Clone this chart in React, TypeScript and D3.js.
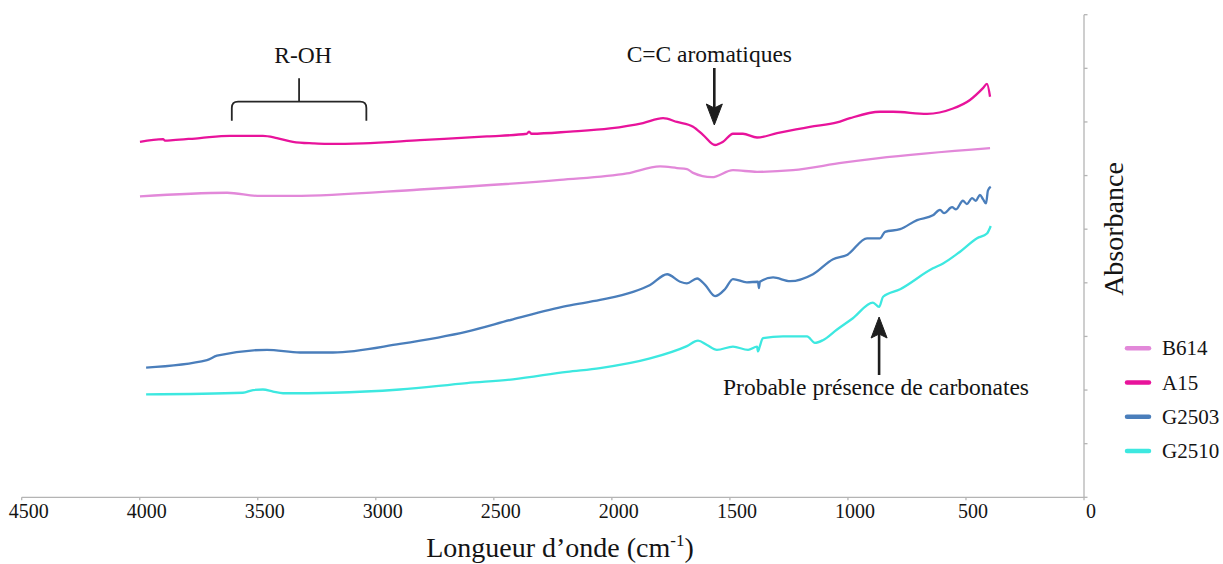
import * as d3 from "d3";

// wavenumber (cm-1), absorbance (a.u.)
const B614: [number, number][] = [
  [3999, 0.561], [3630, 0.568], [3491, 0.562], [3351, 0.562], [2813, 0.574],
  [2220, 0.592], [1936, 0.604], [1796, 0.617], [1724, 0.614], [1682, 0.612],
  [1656, 0.605], [1576, 0.597], [1487, 0.61], [1385, 0.607], [1233, 0.61],
  [1021, 0.624], [877, 0.632], [398, 0.651],
];

const A15: [number, number][] = [
  [3999, 0.663], [3901, 0.668], [3893, 0.665], [3859, 0.666], [3745, 0.67],
  [3618, 0.674], [3478, 0.674], [3419, 0.67], [3351, 0.663], [3266, 0.66],
  [3207, 0.659], [3054, 0.66], [2813, 0.666], [2529, 0.673], [2360, 0.678],
  [2351, 0.682], [2340, 0.678], [2177, 0.682], [2008, 0.688], [1868, 0.698],
  [1783, 0.707], [1724, 0.7], [1656, 0.691], [1614, 0.676], [1563, 0.657],
  [1529, 0.663], [1487, 0.678], [1445, 0.678], [1385, 0.671], [1300, 0.679],
  [1161, 0.691], [1046, 0.699], [991, 0.707], [864, 0.719], [809, 0.719],
  [665, 0.715], [555, 0.725], [483, 0.741], [428, 0.763], [411, 0.771],
  [398, 0.747],
];

const G2503: [number, number][] = [
  [3973, 0.242], [3715, 0.256], [3673, 0.264], [3461, 0.275], [3321, 0.27],
  [3181, 0.27], [2898, 0.286], [2614, 0.309], [2419, 0.332], [2190, 0.357],
  [2050, 0.368], [1910, 0.383], [1838, 0.396], [1766, 0.416], [1711, 0.402],
  [1682, 0.399], [1639, 0.408], [1605, 0.396], [1563, 0.375], [1521, 0.388],
  [1487, 0.407], [1428, 0.401], [1381, 0.402], [1377, 0.39], [1373, 0.402],
  [1317, 0.41], [1245, 0.403], [1148, 0.416], [1063, 0.444], [1004, 0.452],
  [919, 0.483], [864, 0.483], [843, 0.495], [779, 0.5], [707, 0.517],
  [640, 0.526], [610, 0.536], [593, 0.53], [559, 0.541], [542, 0.537],
  [513, 0.553], [496, 0.547], [474, 0.558], [458, 0.553], [441, 0.564],
  [428, 0.556], [415, 0.548], [407, 0.572], [395, 0.579],
];

const G2510: [number, number][] = [
  [3973, 0.192], [3563, 0.195], [3520, 0.2], [3478, 0.201], [3435, 0.197],
  [3393, 0.194], [3181, 0.195], [2898, 0.201], [2614, 0.213], [2419, 0.22],
  [2190, 0.234], [2050, 0.241], [1838, 0.259], [1682, 0.282], [1635, 0.292],
  [1597, 0.284], [1555, 0.275], [1487, 0.281], [1423, 0.275], [1385, 0.281],
  [1381, 0.272], [1373, 0.282], [1360, 0.297], [1275, 0.3], [1173, 0.3],
  [1140, 0.288], [1106, 0.293], [1046, 0.313], [979, 0.334], [894, 0.363],
  [868, 0.355], [851, 0.374], [779, 0.388], [640, 0.427], [597, 0.436],
  [525, 0.458], [453, 0.483], [411, 0.492], [395, 0.506],
];

const SERIES_NAMES = ["B614", "A15", "G2503", "G2510"];
const SERIES_COLORS = ["#e288d9", "#e8139b", "#4a7ebb", "#3de8e0"];
const SERIES_DATA = [B614, A15, G2503, G2510];

const X_TICKS = [4500, 4000, 3500, 3000, 2500, 2000, 1500, 1000, 500, 0];
const Y_TICKS = [0, 0.1, 0.2, 0.3, 0.4, 0.5, 0.6, 0.7, 0.8, 0.9];

const W = 1223;
const H = 564;
const FONT = "'Liberation Serif', 'Times New Roman', serif";
const AXIS_COLOR = "#b4b4b4";
const INK = "#141414";

export default function App() {
  const x = d3.scaleLinear().domain([4500, 0]).range([21.7, 1084]);
  const y = d3.scaleLinear().domain([0, 0.9]).range([497.3, 14.7]);
  const line = d3
    .line<[number, number]>()
    .x((d) => x(d[0]))
    .y((d) => y(d[1]))
    .curve(d3.curveMonotoneX);

  // annotation anchors (wavenumbers)
  const ohLeft = x(3610);
  const ohRight = x(3040);
  const ohStem = x(3325);
  const ccX = x(1566);
  const carbX = x(868);

  return (
    <div style={{ position: "absolute", left: 0, top: 0 }}>
      <svg width={W} height={H} style={{ display: "block", background: "#fff" }}>
        {/* x axis */}
        <line x1={x(4500)} x2={x(0)} y1={y(0)} y2={y(0)} stroke={AXIS_COLOR} strokeWidth={1.3} />
        {X_TICKS.map((t) => (
          <g key={t}>
            <line x1={x(t)} x2={x(t)} y1={y(0)} y2={y(0) + 3} stroke={AXIS_COLOR} strokeWidth={1.3} />
            <text
              x={x(t) + 7}
              y={518}
              textAnchor="middle"
              fontFamily={FONT}
              fontSize={20}
              fill={INK}
            >
              {t}
            </text>
          </g>
        ))}
        <text x={560} y={557} textAnchor="middle" fontFamily={FONT} fontSize={28} fill={INK}>
          Longueur d’onde (cm
          <tspan fontSize={17} dy={-11}>-1</tspan>
          <tspan dy={11}>)</tspan>
        </text>

        {/* value axis on the right */}
        <line x1={x(0)} x2={x(0)} y1={y(0)} y2={y(0.9)} stroke={AXIS_COLOR} strokeWidth={1.3} />
        {Y_TICKS.map((t) => (
          <line key={t} x1={x(0)} x2={x(0) + 3.5} y1={y(t)} y2={y(t)} stroke={AXIS_COLOR} strokeWidth={1.3} />
        ))}
        <text
          transform="translate(1123,229) rotate(-90)"
          textAnchor="middle"
          fontFamily={FONT}
          fontSize={28}
          fill={INK}
        >
          Absorbance
        </text>

        {/* spectra */}
        {SERIES_DATA.map((data, i) => (
          <path
            key={SERIES_NAMES[i]}
            d={line(data) ?? ""}
            fill="none"
            stroke={SERIES_COLORS[i]}
            strokeWidth={2.3}
            strokeLinejoin="round"
          />
        ))}

        {/* legend */}
        {SERIES_NAMES.map((name, i) => {
          const cy = 348.3 + i * 34.2;
          return (
            <g key={name}>
              <line
                x1={1127}
                x2={1149}
                y1={cy}
                y2={cy}
                stroke={SERIES_COLORS[i]}
                strokeWidth={4.5}
                strokeLinecap="round"
              />
              <text x={1162} y={cy + 7} fontFamily={FONT} fontSize={21} fill={INK}>
                {name}
              </text>
            </g>
          );
        })}

        {/* R-OH bracket */}
        <text x={ohStem + 4} y={63} textAnchor="middle" fontFamily={FONT} fontSize={23.5} fill={INK}>
          R-OH
        </text>
        <path
          d={`M${ohLeft},120.7 V108 Q${ohLeft},101.7 ${ohLeft + 6.3},101.7 H${ohRight - 6.3} Q${ohRight},101.7 ${ohRight},108 V120.7`}
          fill="none"
          stroke="#262626"
          strokeWidth={1.8}
        />
        <line x1={ohStem} x2={ohStem} y1={101.7} y2={78.3} stroke="#262626" strokeWidth={1.8} />

        {/* C=C arrow */}
        <text x={ccX - 5} y={62} textAnchor="middle" fontFamily={FONT} fontSize={23.5} fill={INK}>
          C=C aromatiques
        </text>
        <line x1={ccX} x2={ccX} y1={68} y2={110} stroke="#1e1e1e" strokeWidth={2.6} />
        <path
          d={`M${ccX - 8},104 L${ccX},125 L${ccX + 8},104 L${ccX},108 Z`}
          fill="#1e1e1e"
          stroke="#1e1e1e"
          strokeWidth={1}
          strokeLinejoin="round"
        />

        {/* carbonates arrow */}
        <line x1={carbX} x2={carbX} y1={375} y2={332} stroke="#1e1e1e" strokeWidth={2.6} />
        <path
          d={`M${carbX - 8},338 L${carbX},317 L${carbX + 8},338 L${carbX},334 Z`}
          fill="#1e1e1e"
          stroke="#1e1e1e"
          strokeWidth={1}
          strokeLinejoin="round"
        />
        <text x={876} y={395} textAnchor="middle" fontFamily={FONT} fontSize={23.5} fill={INK}>
          Probable présence de carbonates
        </text>
      </svg>
    </div>
  );
}
